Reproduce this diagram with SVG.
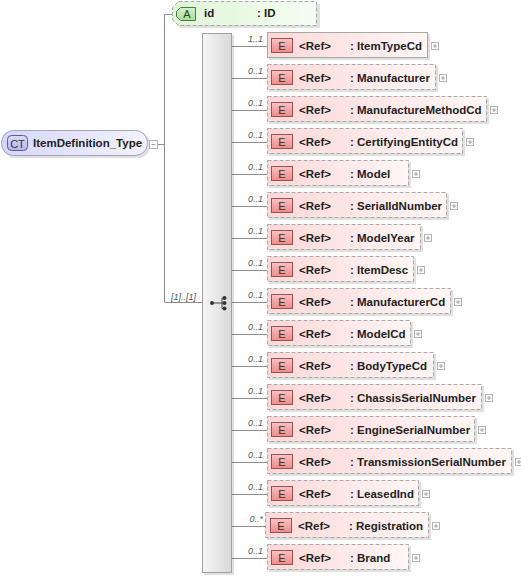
<svg xmlns="http://www.w3.org/2000/svg" width="521" height="577" viewBox="0 0 521 577">
<defs>
<linearGradient id="gEl" x1="0" y1="0" x2="1" y2="0"><stop offset="0" stop-color="#fdd8d8"/><stop offset="1" stop-color="#fff6f6"/></linearGradient>
<linearGradient id="gE" x1="0" y1="0" x2="0" y2="1"><stop offset="0" stop-color="#fbc4c4"/><stop offset="1" stop-color="#f08a8a"/></linearGradient>
<linearGradient id="gAt" x1="0" y1="0" x2="1" y2="0"><stop offset="0" stop-color="#def5d6"/><stop offset="1" stop-color="#f5fdf2"/></linearGradient>
<linearGradient id="gA" x1="0" y1="0" x2="0" y2="1"><stop offset="0" stop-color="#d4f2cc"/><stop offset="1" stop-color="#a8dc9c"/></linearGradient>
<linearGradient id="gCT" x1="0" y1="0" x2="1" y2="0"><stop offset="0" stop-color="#d6d6fb"/><stop offset="1" stop-color="#f2f2ff"/></linearGradient>
<linearGradient id="gCTb" x1="0" y1="0" x2="0" y2="1"><stop offset="0" stop-color="#dcdcf8"/><stop offset="1" stop-color="#b4b4ea"/></linearGradient>
<linearGradient id="gSeq" x1="0" y1="0" x2="1" y2="0"><stop offset="0" stop-color="#f6f6f6"/><stop offset="1" stop-color="#d9d9d9"/></linearGradient>
</defs>
<style>
.ln{stroke:#8c8c8c;stroke-width:1;fill:none}
.sh{fill:#000;opacity:0.12}
.box{fill:url(#gEl);stroke:#a8a8a8;stroke-width:1;stroke-dasharray:4,2}
.box.req{stroke-dasharray:none}
.eb{fill:url(#gE);stroke:#9a5050;stroke-width:1}
.nm{font-family:"Liberation Sans",Arial,sans-serif;font-size:11.5px;font-weight:bold;fill:#222}
.bt{font-family:"Liberation Sans",Arial,sans-serif;font-size:11px;fill:#333;text-anchor:middle}
.card{font-family:"Liberation Sans",Arial,sans-serif;font-size:9px;font-style:italic;fill:#555;text-anchor:end}
.pl{fill:#fff;stroke:#b4b4b4;stroke-width:1}
.plx{stroke:#a0a0a0;stroke-width:1}
</style>

<g id="connectors">
<path class="ln" d="M157.5,144.5H164.5M164.5,14.5V302.5M164.5,14.5H173M164.5,302.5H202"/>
<path class="ln" d="M232,46.5H267M232,78.5H267M232,110.5H267M232,142.5H267M232,174.5H267M232,206.5H267M232,238.5H267M232,270.5H267M232,302.5H267M232,334.5H267M232,366.5H267M232,398.5H267M232,430.5H267M232,462.5H267M232,494.5H267M232,526.5H265M232,558.5H267"/>
<text class="card" x="196" y="300" style="text-anchor:end">[1]..[1]</text>
</g>

<g id="ct">
<rect class="sh" x="3" y="132" width="147" height="26" rx="12"/>
<rect x="1.5" y="130.5" width="146" height="25" rx="12" fill="url(#gCT)" stroke="#a4a4c0"/>
<rect x="7.5" y="135.5" width="20" height="15" rx="4" fill="url(#gCTb)" stroke="#5c5c98"/>
<text class="bt" x="17.5" y="147.5" style="font-size:11px;fill:#303060">CT</text>
<text class="nm" x="33" y="147">ItemDefinition_Type</text>
<rect class="pl" x="149.5" y="140.5" width="8" height="8"/>
<path class="plx" d="M151.5,144.5H155.5"/>
</g>

<g id="attr-id">
<path class="sh" d="M176,4H320V28H180L175,21V11Z"/>
<path d="M178.5,1.5H316.5V25.5H178.5L172.5,19.5V7.5Z" fill="url(#gAt)" stroke="#a8a8a8" stroke-dasharray="4,2"/>
<path d="M180.5,7.5H195.5V20.5H180.5L176.5,16.5V11.5Z" fill="url(#gA)" stroke="#4a7a44"/>
<text class="bt" x="187" y="18" style="fill:#204020">A</text>
<text class="nm" x="204" y="17">id</text>
<text class="nm" x="257" y="17">: ID</text>
</g>

<g id="sequence">
<rect class="sh" x="204" y="35" width="30" height="540"/>
<rect x="202.5" y="33.5" width="29" height="539" fill="url(#gSeq)" stroke="#a0a0a0"/>
<path d="M212,303H222M222,298V308.5M222,298H224.5M222,303H224.5M222,308.5H224.5" stroke="#444" stroke-width="1" fill="none"/>
<circle cx="212" cy="303" r="2" fill="#333"/>
<circle cx="224.5" cy="298" r="2" fill="#333"/>
<circle cx="224.5" cy="303" r="2" fill="#333"/>
<circle cx="224.5" cy="308.5" r="2" fill="#333"/>
</g>

<g id="el-ItemTypeCd" transform="translate(267,32)">
<text class="card" x="-4" y="10">1..1</text>
<rect class="sh" x="2" y="2" width="161" height="26"/>
<rect class="box req" x="0.5" y="0.5" width="160" height="25"/>
<rect class="eb" x="4.5" y="6.5" width="21" height="14"/>
<text class="bt" x="15" y="18">E</text>
<text class="nm" x="32" y="18">&lt;Ref&gt;</text>
<text class="nm" x="83" y="18">: ItemTypeCd</text>
<rect class="pl" x="164.5" y="10.5" width="7" height="7"/><path class="plx" d="M166,14H170M168,12V16"/>
</g>

<g id="el-Manufacturer" transform="translate(267,64)">
<text class="card" x="-4" y="10">0..1</text>
<rect class="sh" x="2" y="2" width="169" height="26"/>
<rect class="box" x="0.5" y="0.5" width="168" height="25"/>
<rect class="eb" x="4.5" y="6.5" width="21" height="14"/>
<text class="bt" x="15" y="18">E</text>
<text class="nm" x="32" y="18">&lt;Ref&gt;</text>
<text class="nm" x="83" y="18">: Manufacturer</text>
<rect class="pl" x="172.5" y="10.5" width="7" height="7"/><path class="plx" d="M174,14H178M176,12V16"/>
</g>

<g id="el-ManufactureMethodCd" transform="translate(267,96)">
<text class="card" x="-4" y="10">0..1</text>
<rect class="sh" x="2" y="2" width="220" height="26"/>
<rect class="box" x="0.5" y="0.5" width="219" height="25"/>
<rect class="eb" x="4.5" y="6.5" width="21" height="14"/>
<text class="bt" x="15" y="18">E</text>
<text class="nm" x="32" y="18">&lt;Ref&gt;</text>
<text class="nm" x="83" y="18">: ManufactureMethodCd</text>
<rect class="pl" x="223.5" y="10.5" width="7" height="7"/><path class="plx" d="M225,14H229M227,12V16"/>
</g>

<g id="el-CertifyingEntityCd" transform="translate(267,128)">
<text class="card" x="-4" y="10">0..1</text>
<rect class="sh" x="2" y="2" width="196" height="26"/>
<rect class="box" x="0.5" y="0.5" width="195" height="25"/>
<rect class="eb" x="4.5" y="6.5" width="21" height="14"/>
<text class="bt" x="15" y="18">E</text>
<text class="nm" x="32" y="18">&lt;Ref&gt;</text>
<text class="nm" x="83" y="18">: CertifyingEntityCd</text>
<rect class="pl" x="199.5" y="10.5" width="7" height="7"/><path class="plx" d="M201,14H205M203,12V16"/>
</g>

<g id="el-Model" transform="translate(267,160)">
<text class="card" x="-4" y="10">0..1</text>
<rect class="sh" x="2" y="2" width="142" height="26"/>
<rect class="box" x="0.5" y="0.5" width="141" height="25"/>
<rect class="eb" x="4.5" y="6.5" width="21" height="14"/>
<text class="bt" x="15" y="18">E</text>
<text class="nm" x="32" y="18">&lt;Ref&gt;</text>
<text class="nm" x="83" y="18">: Model</text>
<rect class="pl" x="145.5" y="10.5" width="7" height="7"/><path class="plx" d="M147,14H151M149,12V16"/>
</g>

<g id="el-SerialIdNumber" transform="translate(267,192)">
<text class="card" x="-4" y="10">0..1</text>
<rect class="sh" x="2" y="2" width="180" height="26"/>
<rect class="box" x="0.5" y="0.5" width="179" height="25"/>
<rect class="eb" x="4.5" y="6.5" width="21" height="14"/>
<text class="bt" x="15" y="18">E</text>
<text class="nm" x="32" y="18">&lt;Ref&gt;</text>
<text class="nm" x="83" y="18">: SerialIdNumber</text>
<rect class="pl" x="183.5" y="10.5" width="7" height="7"/><path class="plx" d="M185,14H189M187,12V16"/>
</g>

<g id="el-ModelYear" transform="translate(267,224)">
<text class="card" x="-4" y="10">0..1</text>
<rect class="sh" x="2" y="2" width="154" height="26"/>
<rect class="box" x="0.5" y="0.5" width="153" height="25"/>
<rect class="eb" x="4.5" y="6.5" width="21" height="14"/>
<text class="bt" x="15" y="18">E</text>
<text class="nm" x="32" y="18">&lt;Ref&gt;</text>
<text class="nm" x="83" y="18">: ModelYear</text>
<rect class="pl" x="157.5" y="10.5" width="7" height="7"/><path class="plx" d="M159,14H163M161,12V16"/>
</g>

<g id="el-ItemDesc" transform="translate(267,256)">
<text class="card" x="-4" y="10">0..1</text>
<rect class="sh" x="2" y="2" width="147" height="26"/>
<rect class="box" x="0.5" y="0.5" width="146" height="25"/>
<rect class="eb" x="4.5" y="6.5" width="21" height="14"/>
<text class="bt" x="15" y="18">E</text>
<text class="nm" x="32" y="18">&lt;Ref&gt;</text>
<text class="nm" x="83" y="18">: ItemDesc</text>
<rect class="pl" x="150.5" y="10.5" width="7" height="7"/><path class="plx" d="M152,14H156M154,12V16"/>
</g>

<g id="el-ManufacturerCd" transform="translate(267,288)">
<text class="card" x="-4" y="10">0..1</text>
<rect class="sh" x="2" y="2" width="184" height="26"/>
<rect class="box" x="0.5" y="0.5" width="183" height="25"/>
<rect class="eb" x="4.5" y="6.5" width="21" height="14"/>
<text class="bt" x="15" y="18">E</text>
<text class="nm" x="32" y="18">&lt;Ref&gt;</text>
<text class="nm" x="83" y="18">: ManufacturerCd</text>
<rect class="pl" x="187.5" y="10.5" width="7" height="7"/><path class="plx" d="M189,14H193M191,12V16"/>
</g>

<g id="el-ModelCd" transform="translate(267,320)">
<text class="card" x="-4" y="10">0..1</text>
<rect class="sh" x="2" y="2" width="144" height="26"/>
<rect class="box" x="0.5" y="0.5" width="143" height="25"/>
<rect class="eb" x="4.5" y="6.5" width="21" height="14"/>
<text class="bt" x="15" y="18">E</text>
<text class="nm" x="32" y="18">&lt;Ref&gt;</text>
<text class="nm" x="83" y="18">: ModelCd</text>
<rect class="pl" x="147.5" y="10.5" width="7" height="7"/><path class="plx" d="M149,14H153M151,12V16"/>
</g>

<g id="el-BodyTypeCd" transform="translate(267,352)">
<text class="card" x="-4" y="10">0..1</text>
<rect class="sh" x="2" y="2" width="167" height="26"/>
<rect class="box" x="0.5" y="0.5" width="166" height="25"/>
<rect class="eb" x="4.5" y="6.5" width="21" height="14"/>
<text class="bt" x="15" y="18">E</text>
<text class="nm" x="32" y="18">&lt;Ref&gt;</text>
<text class="nm" x="83" y="18">: BodyTypeCd</text>
<rect class="pl" x="170.5" y="10.5" width="7" height="7"/><path class="plx" d="M172,14H176M174,12V16"/>
</g>

<g id="el-ChassisSerialNumber" transform="translate(267,384)">
<text class="card" x="-4" y="10">0..1</text>
<rect class="sh" x="2" y="2" width="215" height="26"/>
<rect class="box" x="0.5" y="0.5" width="214" height="25"/>
<rect class="eb" x="4.5" y="6.5" width="21" height="14"/>
<text class="bt" x="15" y="18">E</text>
<text class="nm" x="32" y="18">&lt;Ref&gt;</text>
<text class="nm" x="83" y="18">: ChassisSerialNumber</text>
<rect class="pl" x="218.5" y="10.5" width="7" height="7"/><path class="plx" d="M220,14H224M222,12V16"/>
</g>

<g id="el-EngineSerialNumber" transform="translate(267,416)">
<text class="card" x="-4" y="10">0..1</text>
<rect class="sh" x="2" y="2" width="208" height="26"/>
<rect class="box" x="0.5" y="0.5" width="207" height="25"/>
<rect class="eb" x="4.5" y="6.5" width="21" height="14"/>
<text class="bt" x="15" y="18">E</text>
<text class="nm" x="32" y="18">&lt;Ref&gt;</text>
<text class="nm" x="83" y="18">: EngineSerialNumber</text>
<rect class="pl" x="211.5" y="10.5" width="7" height="7"/><path class="plx" d="M213,14H217M215,12V16"/>
</g>

<g id="el-TransmissionSerialNumber" transform="translate(267,448)">
<text class="card" x="-4" y="10">0..1</text>
<rect class="sh" x="2" y="2" width="245" height="26"/>
<rect class="box" x="0.5" y="0.5" width="244" height="25"/>
<rect class="eb" x="4.5" y="6.5" width="21" height="14"/>
<text class="bt" x="15" y="18">E</text>
<text class="nm" x="32" y="18">&lt;Ref&gt;</text>
<text class="nm" x="83" y="18">: TransmissionSerialNumber</text>
<rect class="pl" x="248.5" y="10.5" width="7" height="7"/><path class="plx" d="M250,14H254M252,12V16"/>
</g>

<g id="el-LeasedInd" transform="translate(267,480)">
<text class="card" x="-4" y="10">0..1</text>
<rect class="sh" x="2" y="2" width="152" height="26"/>
<rect class="box" x="0.5" y="0.5" width="151" height="25"/>
<rect class="eb" x="4.5" y="6.5" width="21" height="14"/>
<text class="bt" x="15" y="18">E</text>
<text class="nm" x="32" y="18">&lt;Ref&gt;</text>
<text class="nm" x="83" y="18">: LeasedInd</text>
<rect class="pl" x="155.5" y="10.5" width="7" height="7"/><path class="plx" d="M157,14H161M159,12V16"/>
</g>

<g id="el-Registration" transform="translate(265,512)">
<text class="card" x="-2" y="10">0..*</text>
<rect class="sh" x="2" y="2" width="164" height="26"/>
<rect class="box" x="0.5" y="0.5" width="163" height="25"/>
<rect class="eb" x="5.5" y="6.5" width="21" height="14"/>
<text class="bt" x="16" y="18">E</text>
<text class="nm" x="33" y="18">&lt;Ref&gt;</text>
<text class="nm" x="84" y="18">: Registration</text>
<rect class="pl" x="167.5" y="10.5" width="7" height="7"/><path class="plx" d="M169,14H173M171,12V16"/>
</g>

<g id="el-Brand" transform="translate(267,544)">
<text class="card" x="-4" y="10">0..1</text>
<rect class="sh" x="2" y="2" width="142" height="26"/>
<rect class="box" x="0.5" y="0.5" width="141" height="25"/>
<rect class="eb" x="4.5" y="6.5" width="21" height="14"/>
<text class="bt" x="15" y="18">E</text>
<text class="nm" x="32" y="18">&lt;Ref&gt;</text>
<text class="nm" x="83" y="18">: Brand</text>
<rect class="pl" x="145.5" y="10.5" width="7" height="7"/><path class="plx" d="M147,14H151M149,12V16"/>
</g>
</svg>
